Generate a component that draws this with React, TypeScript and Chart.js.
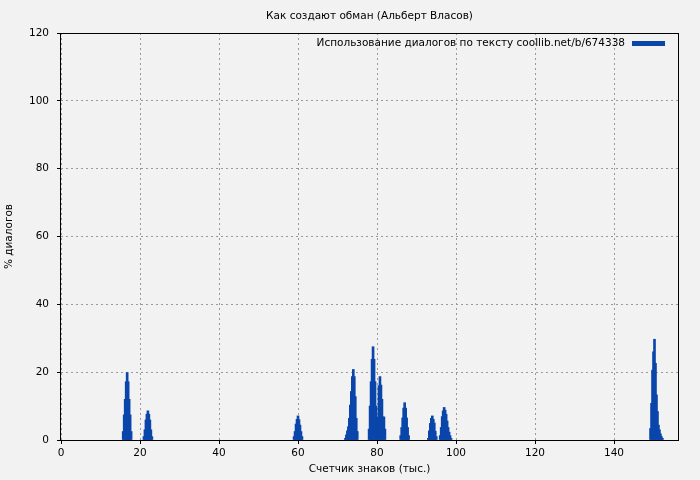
import React, { useEffect, useRef } from "react";
import { Chart, registerables } from "chart.js";

Chart.register(...registerables);

const TITLE = "Как создают обман (Альберт Власов)";
const LEGEND_LABEL = "Использование диалогов по тексту coollib.net/b/674338";
const X_TITLE = "Счетчик знаков (тыс.)";
const Y_TITLE = "% диалогов";

const BAR_COLOR = "#0a46aa";
const BG = "#f2f2f2";
const FONT = '"DejaVu Sans", sans-serif';
const FONT_SIZE = 10.5;

// Spike clusters: position (thousand characters) and % of dialogue
const xA = [15.75, 16.0, 16.25, 16.5, 16.75, 17.0, 17.25, 17.5, 17.75];
const yA = [2.5, 7.4, 12.0, 17.2, 19.9, 17.2, 12.0, 7.4, 2.5];

const xB = [21.0, 21.25, 21.5, 21.75, 22.0, 22.25, 22.5, 22.75, 23.0];
const yB = [1.0, 3.0, 5.9, 7.6, 8.6, 7.6, 5.9, 3.0, 1.0];

const xC = [59.0, 59.25, 59.5, 59.75, 60.0, 60.25, 60.5, 60.75, 61.0];
const yC = [1.0, 2.5, 4.7, 6.1, 7.1, 6.0, 4.4, 2.5, 1.0];

const xD = [72.0, 72.25, 72.5, 72.75, 73.0, 73.25, 73.5, 73.75, 74.0, 74.25, 74.5, 74.75, 75.0];
const yD = [0.5, 1.5, 2.7, 3.9, 6.4, 10.3, 14.3, 18.7, 20.8, 18.7, 12.8, 6.4, 2.5];

const xE = [78.0, 78.25, 78.5, 78.75, 79.0, 79.25, 79.5, 79.75, 80.0, 80.25, 80.5, 80.75, 81.0, 81.25, 81.5, 81.75, 82.0];
const yE = [3.2, 10.0, 17.2, 23.8, 27.5, 23.8, 17.2, 10.0, 3.2, 6.8, 16.0, 18.7, 16.2, 12.0, 6.8, 6.8, 3.2];

const xF = [86.0, 86.25, 86.5, 86.75, 87.0, 87.25, 87.5, 87.75, 88.0];
const yF = [1.3, 3.7, 6.5, 9.4, 11.0, 9.4, 6.5, 3.7, 1.3];

const xG = [93.0, 93.25, 93.5, 93.75, 94.0, 94.25, 94.5, 94.75, 95.0];
const yG = [0.5, 2.7, 4.9, 6.4, 7.1, 6.1, 5.0, 2.6, 1.0];

const xH = [96.0, 96.25, 96.5, 96.75, 97.0, 97.25, 97.5, 97.75, 98.0, 98.25, 98.5, 98.75];
const yH = [1.3, 3.7, 6.9, 8.6, 9.6, 8.8, 7.6, 5.6, 3.7, 2.3, 1.3, 0.5];

const xI = [149.25, 149.5, 149.75, 150.0, 150.25, 150.5, 150.75, 151.0, 151.25, 151.5, 151.75, 152.0, 152.25];
const yI = [3.4, 10.8, 20.6, 26.0, 29.7, 22.6, 13.3, 8.4, 4.4, 3.0, 1.8, 1.0, 0.5];

const X_MAX = 156.2;
const Y_MAX = 120;
const TICK_STEP = 20;

const pairs: [number[], number[]][] = [
  [xA, yA], [xB, yB], [xC, yC], [xD, yD], [xE, yE],
  [xF, yF], [xG, yG], [xH, yH], [xI, yI],
];

const frame = {
  id: "frame",
  beforeDraw(chart: any) {
    const { ctx, width, height } = chart;
    ctx.save();
    ctx.fillStyle = BG;
    ctx.fillRect(0, 0, width, height);
    ctx.restore();
  },
  afterDraw(chart: any) {
    const { ctx, chartArea: a } = chart;
    ctx.save();
    ctx.strokeStyle = "#000";
    ctx.lineWidth = 1;
    ctx.strokeRect(a.left - 0.5, a.top + 0.5, a.right - a.left + 1, a.bottom - a.top);
    ctx.fillStyle = "#000";
    ctx.font = FONT_SIZE + "px " + FONT;
    ctx.textBaseline = "middle";
    ctx.textAlign = "center";
    ctx.fillText(TITLE, (a.left + a.right) / 2, 16);
    ctx.textAlign = "right";
    ctx.fillText(LEGEND_LABEL, a.right - 53, a.top + 10);
    ctx.fillStyle = BAR_COLOR;
    ctx.fillRect(a.right - 46, a.top + 8, 33, 5);
    ctx.restore();
  },
};

export default function App() {
  const ref = useRef<HTMLCanvasElement | null>(null);
  useEffect(() => {
    document.body.style.margin = "0";
    document.body.style.background = BG;
    const points: { x: number; y: number }[] = [];
    pairs.forEach(([xs, ys]) => xs.forEach((x, i) => points.push({ x, y: ys[i] })));
    const chart = new Chart(ref.current!, {
      type: "bar",
      data: {
        datasets: [
          {
            label: LEGEND_LABEL,
            data: points,
            backgroundColor: BAR_COLOR,
            borderWidth: 0,
            barThickness: 2,
            grouped: false,
          } as any,
        ],
      },
      options: {
        responsive: false,
        animation: false,
        layout: { padding: { left: 0, top: 33, right: 22, bottom: 0 } },
        plugins: {
          legend: { display: false },
          title: { display: false },
          tooltip: { enabled: false },
        },
        scales: {
          x: {
            type: "linear",
            min: 0,
            max: X_MAX,
            offset: false,
            afterFit: (s: any) => { s.height = 40; },
            ticks: {
              stepSize: TICK_STEP,
              includeBounds: false,
              autoSkip: false,
              color: "#000",
              font: { family: FONT, size: FONT_SIZE },
              padding: 3,
              maxRotation: 0,
            },
            grid: {
              offset: false,
              color: "#999",
              tickColor: "#000",
              tickLength: 4,
              drawTicks: true,
            },
            border: { display: false, dash: [2, 3] },
            title: {
              display: true,
              text: X_TITLE,
              color: "#000",
              font: { family: FONT, size: FONT_SIZE },
              padding: { top: 0, bottom: 4 },
            },
          },
          y: {
            min: 0,
            max: Y_MAX,
            afterFit: (s: any) => { s.width = 61; },
            ticks: {
              stepSize: TICK_STEP,
              color: "#000",
              font: { family: FONT, size: FONT_SIZE },
              padding: 8,
            },
            grid: {
              color: "#999",
              tickColor: "#000",
              tickLength: 4,
              drawTicks: true,
            },
            border: { display: false, dash: [2, 3] },
            title: {
              display: true,
              text: Y_TITLE,
              color: "#000",
              font: { family: FONT, size: FONT_SIZE },
              padding: { top: 3, bottom: 0 },
            },
          },
        },
      },
      plugins: [frame],
    });
    return () => chart.destroy();
  }, []);
  return <canvas ref={ref} width={700} height={480} style={{ display: "block" }} />;
}
